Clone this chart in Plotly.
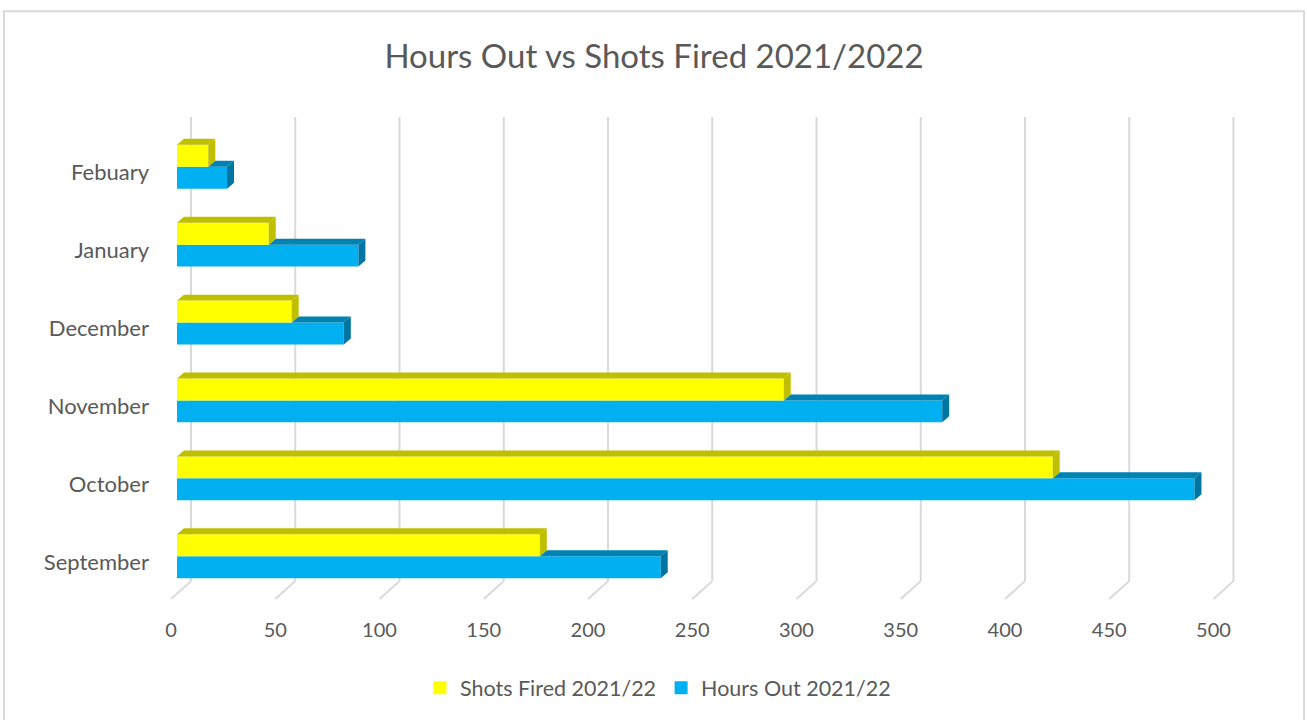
import plotly.graph_objects as go

# ---------------- data ----------------
months = ["September", "October", "November", "December", "January", "Febuary"]
shots_fired = [174, 420, 291, 55, 44, 15]
hours_out = [232, 488, 367, 80, 87, 24]
x_ticks = [0, 50, 100, 150, 200, 250, 300, 350, 400, 450, 500]

title_text = "Hours Out vs Shots Fired 2021/2022"
shots_name = "Shots Fired 2021/22"
hours_name = "Hours Out 2021/22"

# ---------------- styling / geometry (pixels) ----------------
W, H = 1307, 720
L, R = 150, 1260          # plot area left/right px
T, B = 100, 615           # plot area top/bottom px
SX = 2.085                # px per data unit (x)
SY = 78.2                 # px per category (y)
ZERO_PX = 177             # px of value 0 on the bar plane
SEP_PX = 558              # px of first category centre

xmin = -(ZERO_PX - L) / SX
xmax = xmin + (R - L) / SX
ymin = -(B - SEP_PX) / SY
ymax = ymin + (B - T) / SY


def py(p):
    """pixel row -> y data value"""
    return ymin + (B - p) / SY


bw = 22 / SY              # bar thickness
dx = 7 / SX               # depth offset in x (data units)
dy = 6 / SY               # depth offset in y (data units)
grid_back = (191 - ZERO_PX) / SX
front_off = (171 - ZERO_PX) / SX

YEL, YEL_D = "#ffff00", "#bfbf00"
BLU, BLU_T, BLU_S = "#00b0f0", "#0082b3", "#0075a3"
TXT = "#595959"
GRID = "#d9d9d9"
FONT = "Lato, Open Sans, sans-serif"

pos = list(range(len(months)))

fig = go.Figure()

# front faces
fig.add_trace(go.Bar(
    y=[p - bw / 2 for p in pos], x=hours_out, orientation="h", width=bw,
    marker=dict(color=BLU, line=dict(width=0)), name=hours_name,
    showlegend=False, hovertext=months, hoverinfo="x+text"))
fig.add_trace(go.Bar(
    y=[p + bw / 2 for p in pos], x=shots_fired, orientation="h", width=bw,
    marker=dict(color=YEL, line=dict(width=0)), name=shots_name,
    showlegend=False, hovertext=months, hoverinfo="x+text"))


def poly_trace(xs, ys, color):
    return go.Scatter(x=xs, y=ys, mode="lines", fill="toself", fillcolor=color,
                      line=dict(width=0, color=color), showlegend=False,
                      hoverinfo="skip")


# depth faces
bt_x, bt_y, bs_x, bs_y, yt_x, yt_y, ys_x, ys_y = [], [], [], [], [], [], [], []
for p, s, h in zip(pos, shots_fired, hours_out):
    b_top, b_bot = p, p - bw
    y_top, y_bot = p + bw, p
    start = min(s, h)
    # blue top (visible part beyond yellow)
    bt_x += [start, start + dx, h + dx, h, start, None]
    bt_y += [b_top, b_top + dy, b_top + dy, b_top, b_top, None]
    # blue side
    bs_x += [h, h + dx, h + dx, h, h, None]
    bs_y += [b_top, b_top + dy, b_bot + dy, b_bot, b_top, None]
    # yellow top
    yt_x += [0, dx, s + dx, s, 0, None]
    yt_y += [y_top, y_top + dy, y_top + dy, y_top, y_top, None]
    # yellow side
    ys_x += [s, s + dx, s + dx, s, s, None]
    ys_y += [y_top, y_top + dy, y_bot + dy, y_bot, y_top, None]

fig.add_trace(poly_trace(bt_x, bt_y, BLU_T))
fig.add_trace(poly_trace(bs_x, bs_y, BLU_S))
fig.add_trace(poly_trace(yt_x, yt_y, YEL_D))
fig.add_trace(poly_trace(ys_x, ys_y, YEL_D))

# legend entries (square swatches)
fig.add_trace(go.Scatter(x=[None], y=[None], mode="markers", name=shots_name,
                         marker=dict(symbol="square", size=13, color=YEL),
                         legendrank=1))
fig.add_trace(go.Scatter(x=[None], y=[None], mode="markers", name=hours_name,
                         marker=dict(symbol="square", size=13, color=BLU),
                         legendrank=2))

# back-wall gridlines and floor diagonals
shapes = []
g_top, g_bot, g_front = py(117), py(583), py(601)
for t in x_ticks:
    shapes.append(dict(type="line", xref="x", yref="y", layer="below",
                       x0=t + grid_back, x1=t + grid_back, y0=g_bot, y1=g_top,
                       line=dict(color=GRID, width=2)))
    shapes.append(dict(type="line", xref="x", yref="y", layer="below",
                       x0=t + front_off, x1=t + grid_back, y0=g_front, y1=g_bot,
                       line=dict(color=GRID, width=2)))

# outer chart border
shapes.append(dict(type="rect", xref="paper", yref="paper", layer="above",
                   x0=(4 - L) / (R - L), x1=(1304 - L) / (R - L),
                   y0=(B - 730) / (B - T), y1=(B - 11) / (B - T),
                   line=dict(color=GRID, width=2), fillcolor="rgba(0,0,0,0)"))

fig.update_layout(
    width=W, height=H,
    margin=dict(l=L, r=W - R, t=T, b=H - B, pad=0),
    paper_bgcolor="white", plot_bgcolor="white",
    barmode="overlay",
    font=dict(family=FONT, color=TXT, size=20),
    title=dict(text=title_text, x=654 / W, xref="container", xanchor="center",
               y=1 - 56 / H, yref="container", yanchor="middle",
               font=dict(family=FONT, size=33, color=TXT)),
    xaxis=dict(range=[xmin, xmax], tickvals=[t + front_off for t in x_ticks],
               ticktext=[str(t) for t in x_ticks], showgrid=False,
               zeroline=False, showline=False, ticks="", ticklabelstandoff=3,
               tickfont=dict(size=20, color=TXT), fixedrange=True),
    yaxis=dict(range=[ymin, ymax], tickvals=[p - 6 / SY for p in pos],
               ticktext=months, showgrid=False, zeroline=False,
               showline=False, ticks="", tickfont=dict(size=22, color=TXT),
               fixedrange=True),
    legend=dict(orientation="h", x=(658 - L) / (R - L), xanchor="center",
                y=(B - 690) / (B - T), yanchor="middle", itemwidth=30,
                font=dict(size=21.5, color=TXT), bgcolor="rgba(0,0,0,0)"),
    shapes=shapes,
    showlegend=True,
)

fig.write_html("out.html", config={"displayModeBar": False},
               post_script="document.body.style.margin='0';"
                           "document.body.style.overflow='hidden';")
